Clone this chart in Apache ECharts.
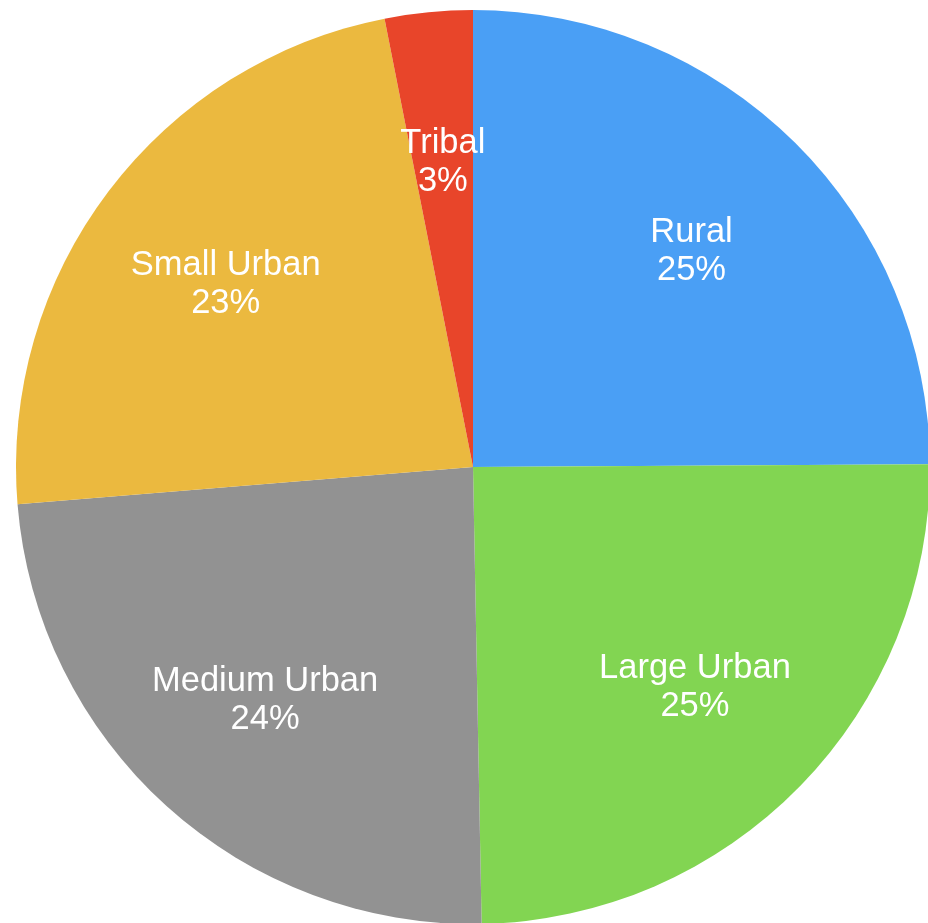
<!DOCTYPE html>
<html>
<head>
<meta charset="utf-8">
<script src="https://cdn.jsdelivr.net/npm/echarts@6/dist/echarts.min.js"></script>
<style>
html,body{margin:0;padding:0;background:#fff;}
#chart{width:928px;height:923px;}
</style>
</head>
<body>
<div id="chart"></div>
<script>
const categories = ['Rural', 'Large Urban', 'Medium Urban', 'Small Urban', 'Tribal'];
const values = [24.9, 24.8, 24.0, 23.2, 3.1];
const colors = ['#4A9FF5', '#82D552', '#929292', '#EBB93F', '#E8452A'];

const data = categories.map((c, i) => ({ name: c, value: values[i] }));

const chart = echarts.init(document.getElementById('chart'));
chart.setOption({
  animation: false,
  color: colors,
  series: [
    {
      type: 'pie',
      center: [473, 467],
      radius: [0, 457],
      startAngle: 90,
      clockwise: true,
      silent: true,
      label: { show: false },
      labelLine: { show: false },
      itemStyle: { borderWidth: 0 },
      data: data
    },
    {
      type: 'pie',
      center: [473, 467],
      radius: [157, 457],
      startAngle: 90,
      clockwise: true,
      silent: true,
      percentPrecision: 0,
      itemStyle: { color: 'rgba(0,0,0,0)', borderWidth: 0 },
      label: {
        show: true,
        position: 'inside',
        formatter: '{b}\n{d}%',
        color: '#ffffff',
        fontFamily: 'Liberation Sans, Arial, Helvetica, sans-serif',
        fontSize: 34.5,
        lineHeight: 38,
        align: 'center',
        offset: [0, 4]
      },
      labelLine: { show: false },
      data: data
    }
  ]
});
</script>
</body>
</html>
